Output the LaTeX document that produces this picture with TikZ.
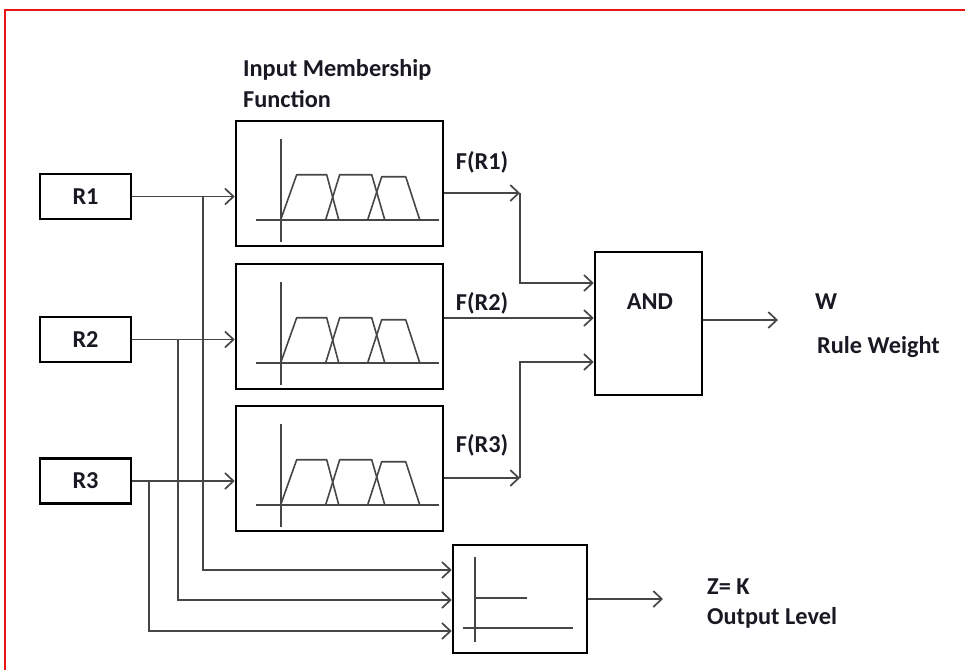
\documentclass[tikz,border=0pt]{standalone}
\usepackage{fontspec}
\setmainfont{Carlito}
\usetikzlibrary{arrows.meta,calc}
\definecolor{txt}{RGB}{25,25,35}
\definecolor{ln}{RGB}{70,70,70}
\definecolor{frame}{RGB}{235,20,20}
\begin{document}
\begin{tikzpicture}[x=1pt,y=-1pt,
  box/.style={draw=black,line width=2.6pt,minimum width=#1,inner sep=0pt},
  lbl/.style={font=\fontsize{24.3}{27}\selectfont\bfseries,text=txt,inner sep=0pt},
  wire/.style={draw=ln,line width=1.7pt},
  arr/.style={wire,-{Straight Barb[length=8.5pt,width=16pt,line width=1.7pt]}},
  curve/.style={draw=ln,line width=1.6pt,line join=round}]
\useasboundingbox (0,0) rectangle (965,670);
\draw[frame,line width=2pt] (5,670) -- (5,10) -- (965,10);

% input boxes
\node[box=91pt,minimum height=45pt,lbl] (R1) at (85.5,196.5) {R1};
\node[box=91pt,minimum height=45pt,lbl] (R2) at (85.5,339.5) {R2};
\node[box=91pt,minimum height=45pt,lbl] (R3) at (85.5,481) {R3};

% membership function boxes
\node[box=207pt,minimum height=125pt] (MF1) at (339.5,183.5) {};
\node[box=207pt,minimum height=125pt] (MF2) at (339.5,326.5) {};
\node[box=207pt,minimum height=125pt] (MF3) at (339.5,468.5) {};
\foreach \m in {MF1,MF2,MF3}{
  \begin{scope}[shift={(\m.north west)}]
    \draw[curve] (46,19) -- (46,122);
    \draw[curve] (21,100) -- (204,100);
    \draw[curve] (46,100) -- (62,55) -- (92,55) -- (104,100);
    \draw[curve] (91,100) -- (105,55) -- (137,55) -- (150,100);
    \draw[curve] (133,100) -- (147,57) -- (171,57) -- (185,100);
  \end{scope}
}

% AND and output level boxes
\node[box=107pt,minimum height=143pt] (AND) at (648.5,323.5) {};
\node[lbl] (andl) at (650,302) {AND};
\node[box=134pt,minimum height=108pt] (OUT) at (520,599) {};
\begin{scope}[shift={(OUT.north west)}]
  \draw[curve] (23,13) -- (23,98);
  \draw[curve] (23,54) -- (75,54);
  \draw[curve] (11,84) -- (121,84);
\end{scope}

% titles and labels
\node[lbl,anchor=base west] (t1) at (243,76) {Input Membership};
\node[lbl,anchor=base west] (t2) at (243,107) {Function};
\node[lbl] (f1) at (482,162) {F(R1)};
\node[lbl] (f2) at (482,303) {F(R2)};
\node[lbl] (f3) at (482,445) {F(R3)};
\node[lbl,anchor=west] (w) at (815,302) {W};
\node[lbl,anchor=west] (rw) at (817,347) {Rule Weight};
\node[lbl,anchor=west] (z) at (707,587) {Z= K};
\node[lbl,anchor=west] (ol) at (707,618) {Output Level};

% coordinates
\coordinate (b1) at (203,196.5);
\coordinate (b2) at (178,339.5);
\coordinate (b3) at (149,481);
\coordinate (j1) at (520,193);
\coordinate (j3) at (520,478);
\coordinate (wout) at (778,320);
\coordinate (zout) at (663,599);

% inputs to membership boxes
\draw[arr] (R1.east) -- (R1.east -| MF1.west);
\draw[arr] (R2.east) -- (R2.east -| MF2.west);
\draw[arr] (R3.east) -- (R3.east -| MF3.west);

% inputs to output level box
\draw[arr] (b1) |- (OUT.west |- 0,570);
\draw[arr] (b2) |- (OUT.west |- 0,600);
\draw[arr] (b3) |- (OUT.west |- 0,631);

% membership outputs
\draw[arr] (MF1.east |- j1) -- (j1);
\draw[arr] (j1) |- (AND.west |- 0,283);
\draw[arr] (MF2.east |- 0,318) -- (AND.west |- 0,318);
\draw[arr] (MF3.east |- j3) -- (j3);
\draw[arr] (j3) |- (AND.west |- 0,362);

% outputs
\draw[arr] (AND.east |- wout) -- (wout);
\draw[arr] (OUT.east |- zout) -- (zout);
\end{tikzpicture}
\end{document}
